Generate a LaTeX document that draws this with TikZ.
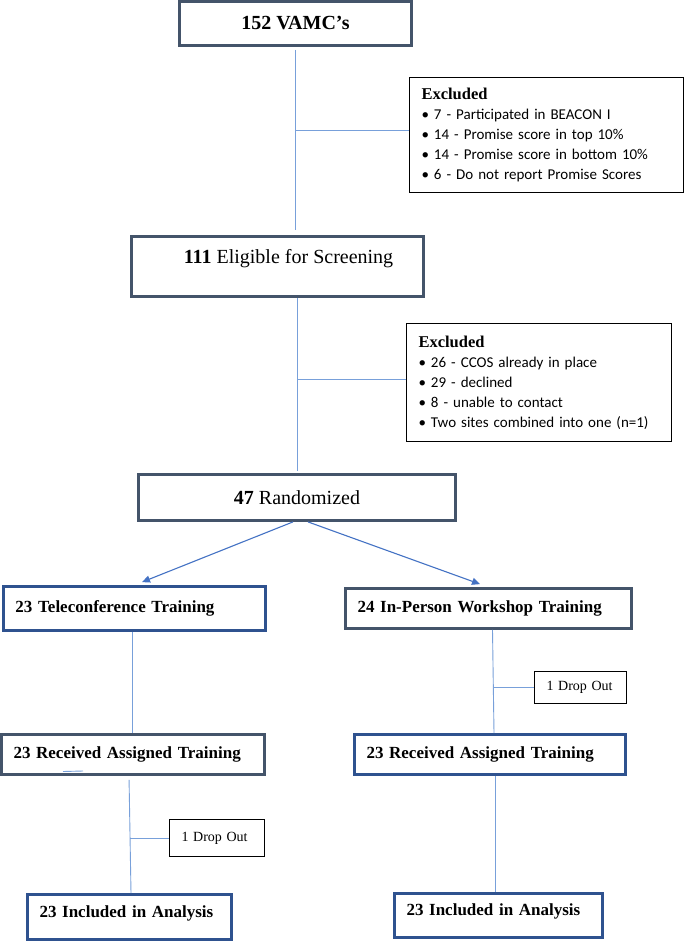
\documentclass[tikz,border=0pt]{standalone}
\usepackage{fontspec}
\setmainfont{Liberation Serif}
\newfontfamily\calibri{Carlito}
\usetikzlibrary{arrows.meta}
\definecolor{slate}{RGB}{68,84,106}
\definecolor{navy}{RGB}{47,82,143}
\definecolor{linkblue}{RGB}{120,160,218}
\definecolor{arrowblue}{RGB}{68,114,196}

\begin{document}
\begin{tikzpicture}[x = 1pt, y = -1pt,
	box/.style = {draw = slate, line width = 2.8pt, inner sep = 0pt},
	lbox/.style = {box, align = left, inner xsep = 12pt,
		font = \fontsize{17}{20}\selectfont\bfseries},
	excl/.style = {draw = black, line width = 0.9pt, align = left,
		inner xsep = 12pt, inner ysep = 0pt,
		font = \calibri\fontsize{15}{20}\selectfont},
	drop/.style = {draw = black, line width = 1.3pt, align = left,
		inner xsep = 12pt, inner ysep = 0pt,
		font = \fontsize{14}{16}\selectfont},
	link/.style = {draw = linkblue, line width = 0.9pt},
	>={Triangle[length = 8pt, width = 7pt]}]

	\fill[white] (0,0) rectangle (685,942);
	\useasboundingbox (0,0) rectangle (685,942);

	% top part
	\draw (295.5,23.5) node[box,
			minimum width = 232,
			minimum height = 44,
			font = \fontsize{20}{24}\selectfont\bfseries](vamc){152 VAMC’s};
	\draw (546.5,135) node[excl,
			text width = 250pt,
			minimum height = 115](excl1){%
		{\rmfamily\bfseries\fontsize{16.5}{20}\selectfont Excluded}\\
		• 7 - Participated in BEACON I\\
		• 14 - Promise score in top 10\%\\
		• 14 - Promise score in bottom 10\%\\
		• 6 - Do not report Promise Scores};
	\draw (277.5,266.5) node[box,
			minimum width = 292,
			minimum height = 60,
			text height = 14pt,
			text depth = 21pt,
			font = \fontsize{20}{24}\selectfont](eligible){\hspace*{22pt}\textbf{111} Eligible for Screening};
	\draw (539,382.5) node[excl,
			text width = 241pt,
			minimum height = 118](excl2){%
		{\rmfamily\bfseries\fontsize{16.5}{20}\selectfont Excluded}\\
		• 26 - CCOS already in place\\
		• 29 - declined\\
		• 8 - unable to contact\\
		• Two sites combined into one (n=1)};
	\draw (297,497.5) node[box,
			minimum width = 317,
			minimum height = 46,
			font = \fontsize{20}{24}\selectfont](rand){\textbf{47} Randomized};

	% two arms
	\draw (134.5,608.5) node[lbox, draw = navy,
			text width = 238pt,
			minimum height = 44](tele){23 Teleconference Training};
	\draw (488.5,608.5) node[lbox,
			text width = 262pt,
			minimum height = 40](inperson){24 In-Person Workshop Training};
	\draw (217,838) node[drop,
			text width = 71pt,
			minimum height = 37](dropA){1 Drop Out};
	\draw (580.5,687.5) node[drop,
			text width = 68pt,
			minimum height = 32](dropB){1 Drop Out};
	\draw (133,754.5) node[lbox,
			text width = 239pt,
			minimum height = 40](recvA){23 Received Assigned Training};
	\draw (490,754.5) node[lbox, draw = navy,
			text width = 247pt,
			minimum height = 40](recvB){23 Received Assigned Training};
	\draw (129.5,917) node[lbox, draw = navy,
			text width = 180pt,
			minimum height = 45,
			text height = 11.5pt,
			text depth = 11.5pt](inclA){23 Included in Analysis};
	\draw (498.5,915.5) node[lbox, draw = navy,
			text width = 184pt,
			minimum height = 44,
			text height = 11.5pt,
			text depth = 11.5pt](inclB){23 Included in Analysis};
	\coordinate (tick) at (63,771.5);

	\draw[link, shorten <= 3pt, shorten >= 5pt] (vamc.south) -- (vamc.south |- eligible.north);
	\draw[link] ([yshift = 5pt]excl1.west) -- ([yshift = 5pt]excl1.west -| vamc.south);
	\draw[link, shorten >= 2pt] (rand.north |- eligible.south) -- (rand.north);
	\draw[link] ([yshift = 3.5pt]excl2.west) -- ([yshift = 3.5pt]excl2.west -| rand.north);

	\draw[->, arrowblue, line width = 1.1pt] ([xshift = -4pt]rand.south) -- ([xshift = 7.5pt, yshift = 3pt]tele.north);
	\draw[->, arrowblue, line width = 1.1pt] ([xshift = 11pt]rand.south) -- ([xshift = -8.5pt, yshift = 3pt]inperson.north);

	\draw[link] ([xshift = -2.5pt]tele.south) -- ([xshift = -2.5pt]tele.south |- recvA.north);
	\draw[link, shorten <= 4pt] ([xshift = -4pt]recvA.south) -- ([xshift = 1.5pt]inclA.north);
	\draw[link] (dropA.west) -- (dropA.west -| inclA.north);
	\draw[link] (tick) -- ++(20,-0.5);

	\draw[link] ([xshift = 4pt]inperson.south) -- ([xshift = 4pt]recvB.north);
	\draw[link] (dropB.west) -- ([xshift = 3pt]dropB.west -| recvB.north);
	\draw[link] ([xshift = 5pt]recvB.south) -- ([xshift = 5pt]recvB.south |- inclB.north);

\end{tikzpicture}
\end{document}
